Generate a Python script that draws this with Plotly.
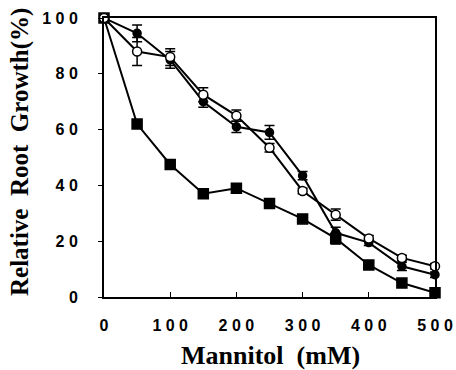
import plotly.graph_objects as go

mannitol = [0, 50, 100, 150, 200, 250, 300, 350, 400, 450, 500]
filled_circle = [100, 94.5, 85, 70, 61, 59, 43.5, 23, 19.5, 11, 8]
filled_circle_err = [1, 3, 3, 2, 2, 2.5, 1.5, 2, 1, 1.5, 1]
open_circle = [100, 88, 86, 72.5, 65, 53.5, 38, 29.5, 21, 14, 11]
open_circle_err = [1, 5, 3, 2.5, 2, 1.5, 1, 2, 1, 1, 1]
filled_square = [100, 62, 47.5, 37, 39, 33.5, 28, 21, 11.5, 5, 1.5]
filled_square_err = [1, 1, 1.5, 1, 1, 1, 1, 2, 1.5, 1, 1]

x_ticks = [0, 100, 200, 300, 400, 500]
x_ticktext = ["0", "1 0 0", "2 0 0", "3 0 0", "4 0 0", "5 0 0"]
y_ticks = [0, 20, 40, 60, 80, 100]
y_ticktext = ["0", "2 0", "4 0", "6 0", "8 0", "1 0 0"]

W, H = 456, 370
L, R, T, B = 104, 21, 18, 73
pw, ph = W - L - R, H - T - B

fig = go.Figure()

def add(y, err, symbol, color, size):
    fig.add_trace(go.Scatter(
        x=mannitol, y=y, mode="lines+markers",
        line=dict(color="black", width=2),
        marker=dict(symbol=symbol, size=size,
                    color=color, line=dict(color="black", width=1.5)),
        error_y=dict(type="data", array=err, color="black", thickness=1.5, width=5),
        cliponaxis=False, showlegend=False))

add(filled_square, filled_square_err, "square", "black", 10)
add(filled_circle, filled_circle_err, "circle", "black", 8)
add(open_circle, open_circle_err, "circle", "white", 9)

tickfont = dict(family="Liberation Sans, Arial", size=16, color="black", weight="bold")
fig.update_layout(
    width=W, height=H,
    margin=dict(l=L, r=R, t=T, b=B),
    paper_bgcolor="white", plot_bgcolor="white",
    xaxis=dict(range=[0, 500], tickvals=x_ticks, ticktext=x_ticktext,
               ticks="inside", ticklen=5, tickcolor="black", tickwidth=1,
               showgrid=False, zeroline=False, showline=True, mirror=True,
               linecolor="black", linewidth=2, automargin=False,
               ticklabelstandoff=13, tickfont=tickfont),
    yaxis=dict(range=[0, 100], tickvals=y_ticks, ticktext=y_ticktext,
               ticks="outside", ticklen=4, tickcolor="black", tickwidth=1,
               showgrid=False, zeroline=False, showline=True, mirror=True,
               linecolor="black", linewidth=2, automargin=False,
               ticklabelstandoff=17, tickfont=tickfont),
    annotations=[
        dict(text="<b>Mannitol  (mM)</b>", xref="paper", yref="paper",
             x=(270 - L) / pw, y=1 - (355 - T) / ph, xanchor="center", yanchor="middle",
             showarrow=False, font=dict(family="Liberation Serif, Times New Roman", size=26, color="black")),
        dict(text="<b>Relative  Root  Growth(%)</b>", xref="paper", yref="paper",
             x=(20 - L) / pw, y=1 - (152 - T) / ph, xanchor="center", yanchor="middle",
             textangle=-90, showarrow=False,
             font=dict(family="Liberation Serif, Times New Roman", size=25, color="black")),
    ],
)

fig.write_html("out.html", config={"displayModeBar": False},
               post_script="document.body.style.margin='0';")
